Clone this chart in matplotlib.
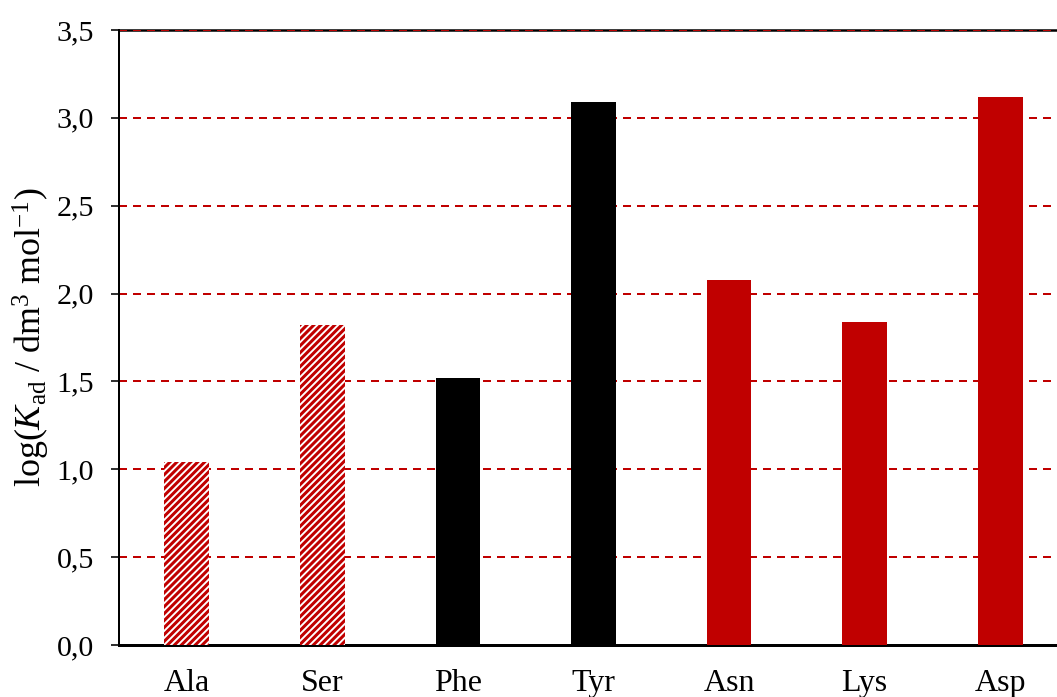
import numpy as np
import matplotlib as mpl
import matplotlib.pyplot as plt
import matplotlib.ticker as ticker

# ── data ──────────────────────────────────────────────────────────────────────
amino_acids = ["Ala", "Ser", "Phe", "Tyr", "Asn", "Lys", "Asp"]
log_kad     = [1.04, 1.82, 1.52, 3.09, 2.08, 1.84, 3.12]
groups      = ["hatch", "hatch", "black", "black", "red", "red", "red"]

RED   = "#C00000"
BLACK = "#000000"

# hatch spacing in Agg scales with dpi, so pick dpi for the stripe density
DPI = 125
W_PX, H_PX = 1057, 697


def pt(px):
    """pixels -> points at the chosen dpi"""
    return px * 72.0 / DPI


mpl.rcParams.update({
    "font.family": "Liberation Serif",
    "mathtext.fontset": "custom",
    "mathtext.rm": "Liberation Serif",
    "mathtext.it": "Liberation Serif:italic",
    "hatch.linewidth": pt(3.0),
})

fig = plt.figure(figsize=(W_PX / DPI, H_PX / DPI), dpi=DPI)
ax = fig.add_axes([119 / W_PX, 52 / H_PX, 949 / W_PX, 615 / H_PX])

x = np.arange(len(amino_acids))
for xi, val, g in zip(x, log_kad, groups):
    if g == "hatch":
        ax.bar(xi, val, width=0.33, color="white", edgecolor=RED,
               hatch="//////", linewidth=0, zorder=3)
    else:
        ax.bar(xi, val, width=0.33, color=BLACK if g == "black" else RED,
               linewidth=0, zorder=3)

ax.set_xlim(-0.5, len(amino_acids) - 0.5)
ax.set_ylim(0, 3.5)
ax.yaxis.set_major_locator(ticker.MultipleLocator(0.5))
ax.yaxis.set_major_formatter(
    ticker.FuncFormatter(lambda v, p: f"{v:.1f}".replace(".", ",")))

for yv in np.arange(0.5, 3.51, 0.5):
    ax.axhline(yv, color=RED, linestyle=(0, (4, 3)), linewidth=pt(2),
               zorder=1)

ax.set_xticks(x)
ax.set_xticklabels(amino_acids, fontsize=pt(32))
ax.tick_params(axis="x", length=0, pad=pt(24))
ax.tick_params(axis="y", direction="out", length=pt(8), width=pt(1.6),
               labelsize=pt(30), pad=pt(17))

ax.spines["right"].set_visible(False)
ax.spines["left"].set_linewidth(pt(2))
ax.spines["bottom"].set_linewidth(pt(3))
ax.spines["top"].set_linewidth(pt(2.5))
ax.spines["top"].set_zorder(0)

ax.set_ylabel(r"log($K_\mathrm{ad}$ / dm$^3$ mol$^{-1}$)", fontsize=pt(36),
              labelpad=pt(4))

fig.savefig("out.png", dpi=DPI)
